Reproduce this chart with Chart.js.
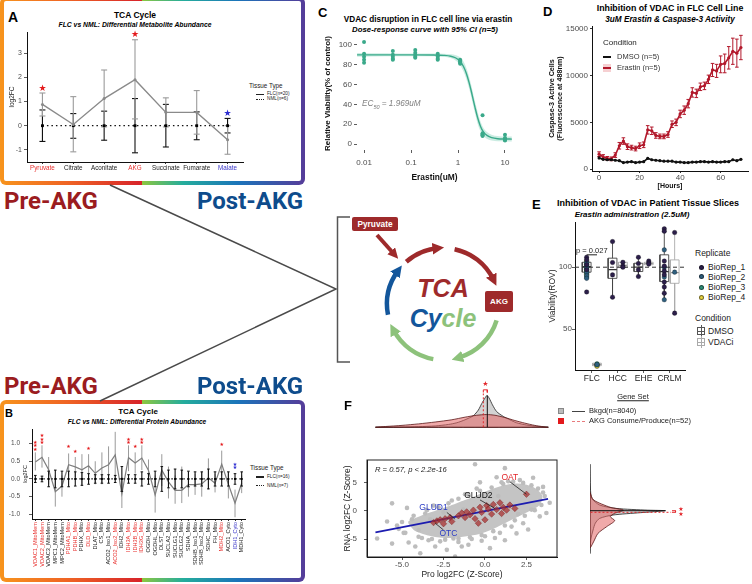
<!DOCTYPE html>
<html><head><meta charset="utf-8"><title>TCA / VDAC figure</title>
<script src="https://cdn.jsdelivr.net/npm/chart.js@4.4.1/dist/chart.umd.min.js"></script>
<style>
html,body{margin:0;padding:0;background:#fff;}
body{width:752px;height:584px;position:relative;overflow:hidden;font-family:'Liberation Sans',Arial,sans-serif;}
canvas{position:absolute;}
.frame{position:absolute;border-radius:6px;background:linear-gradient(90deg,#f7941d 0%,#ef6424 22%,#d7232a 46.4%,#8cc63f 46.6%,#25ad9c 60%,#1b74ba 78%,#563c99 100%);}
.frame > div{position:absolute;left:4px;top:4px;right:4px;bottom:4px;background:#fff;border-radius:2px;}
.tx{position:absolute;white-space:nowrap;line-height:1;}
.rk{position:absolute;}
svg.diag{position:absolute;left:0;top:0;}
</style></head>
<body>
<div class="frame" style="left:0;top:-3px;width:305px;height:188px"><div></div></div>
<div class="frame" style="left:0;top:400px;width:305px;height:182px"><div></div></div>
<svg class="diag" width="752" height="584" viewBox="0 0 752 584">
<defs>
<marker id="mr" viewBox="0 0 10 10" refX="4" refY="5" markerWidth="2.6" markerHeight="2.6" orient="auto"><path d="M0,0 L10,5 L0,10 z" fill="#9e2a2b"/></marker>
<marker id="mg" viewBox="0 0 10 10" refX="4" refY="5" markerWidth="2.6" markerHeight="2.6" orient="auto"><path d="M0,0 L10,5 L0,10 z" fill="#8dc27b"/></marker>
<marker id="mb" viewBox="0 0 10 10" refX="4" refY="5" markerWidth="2.6" markerHeight="2.6" orient="auto"><path d="M0,0 L10,5 L0,10 z" fill="#13569b"/></marker>
</defs>
<path d="M110,185 L336,289 L100,401" fill="none" stroke="#4a4a4a" stroke-width="1.5"/>
<path d="M350,217 H337.5 V362 H350" fill="none" stroke="#555" stroke-width="1.5"/>
<line x1="377" y1="235" x2="394" y2="254" stroke="#9e2a2b" stroke-width="4" marker-end="url(#mr)"/>
<path d="M406.3,261.7 A56,56 0 0 1 437.1,248.3" fill="none" stroke="#9e2a2b" stroke-width="4.5" marker-end="url(#mr)"/>
<path d="M454.6,249.2 A56,56 0 0 1 493.3,279.4" fill="none" stroke="#9e2a2b" stroke-width="4.5" marker-end="url(#mr)"/>
<path d="M496.6,320.4 A56,56 0 0 1 458.4,357.8" fill="none" stroke="#8dc27b" stroke-width="4.5" marker-end="url(#mg)"/>
<path d="M433.3,359.1 A56,56 0 0 1 393.6,330.3" fill="none" stroke="#8dc27b" stroke-width="4.5" marker-end="url(#mg)"/>
<path d="M388.0,314.7 A56,56 0 0 1 397.7,271.1" fill="none" stroke="#13569b" stroke-width="4.5" marker-end="url(#mb)"/>
<rect x="352" y="217" width="46" height="14" rx="2" fill="#9e2a2b"/>
<rect x="485" y="291" width="28" height="21" rx="2" fill="#9e2a2b"/>
</svg>
<script>
// ======================= DATA =======================
// Panel A – metabolites
const aCategories = ['Pyruvate','Citrate','Aconitate','AKG','Succinate','Fumarate','Malate'];
const aFlcMean = [0.88, 0.05, 1.12, 1.9, 0.55, 0.55, -0.58];
const aFlcLow  = [0.40, -1.08, -0.05, 0.28, -0.05, -0.35, -1.18];
const aFlcHigh = [1.35, 1.2, 2.3, 3.55, 1.15, 1.45, 0.0];
const aNmlMean = [0, 0, 0, 0, 0, 0, 0];
const aNmlLow  = [-0.65, -0.52, -0.6, -1.12, -0.88, -0.58, -0.3];
const aNmlHigh = [0.65, 0.5, 0.6, 1.12, 0.88, 0.57, 0.3];
const aStarCats = ['Pyruvate','AKG','Malate'];
const aStarVals = [1.55, 3.75, 0.5];
const aYTicks = [-1, 0, 1, 2, 3];

// Panel B – proteins
const bCategories = ['VDAC1_MitoMem','VDAC2_MitoMem','VDAC3_MitoMem','MPC1_MitoMem','MPC2_MitoMem','PDHA1_Mito','PDHB_Mito','PDHX_Mito','DLD_Mito','DLAT_Mito','CS_Mito','ACO2_Iso1_Mito','ACO2_Iso2_Mito','IDH2_Mito','IDH3A_Mito','IDH3B_Mito','IDH3G_Mito','OGDH_Mito','OGDHL_Mito','DLST_Mito','SUCLA2_Mito','SUCLG1_Mito','SUCLG2_Mito','SDHA_Mito','SDHB_Iso1_Mito','SDHB_Iso2_Mito','SDHC_Mito','FH_Mito','MDH2_Mito','ACO1_Cyto','IDH1_Cyto','MDH1_Cyto'];
const bFlcMean = [0.48,0.61,0.26,-0.36,-0.2,0.4,0.34,0.26,0.37,0.16,0.31,0.4,0.68,-0.42,0.6,0.45,0.59,0.24,-0.45,0.25,-0.08,-0.32,-0.32,-0.16,-0.16,-0.14,0.03,-0.12,0.42,-0.15,-0.68,-0.12];
const bFlcLow  = [0.24,0.32,-0.15,-0.78,-0.5,0.1,0.05,-0.2,0.05,-0.15,-0.15,-0.1,0.05,-0.82,0.22,0.15,0.25,-0.1,-0.95,-0.2,-0.55,-0.7,-0.68,-0.5,-0.45,-0.5,-0.3,-0.38,0.1,-0.55,-1.08,-0.4];
const bFlcHigh = [0.75,0.95,0.62,0.1,0.1,0.72,0.62,0.7,0.7,0.5,0.75,0.92,1.33,0.05,0.95,0.75,0.95,0.55,0.1,0.7,0.35,0.1,0.35,0.2,0.15,0.2,0.58,0.15,0.8,0.15,-0.3,0.1];
const bNmlHalf = [0.1,0.08,0.22,0.25,0.22,0.22,0.2,0.18,0.15,0.12,0.12,0.12,0.1,0.35,0.12,0.12,0.2,0.15,0.22,0.35,0.25,0.28,0.25,0.22,0.2,0.2,0.28,0.2,0.2,0.2,0.15,0.2];
const bUpCats = ['VDAC1_MitoMem','VDAC2_MitoMem','PDHA1_Mito','PDHB_Mito','DLD_Mito','ACO2_Iso2_Mito','IDH3A_Mito','IDH3B_Mito','IDH3G_Mito','MDH2_Mito'];
const bDownCats = ['IDH1_Cyto'];
const bStarCats = ['VDAC1_MitoMem','VDAC2_MitoMem','PDHA1_Mito','PDHB_Mito','DLD_Mito','IDH3A_Mito','IDH3B_Mito','IDH3G_Mito','MDH2_Mito','IDH1_Cyto'];
const bStarVals = [0.83, 1.02, 0.92, 0.78, 0.85, 1.02, 0.92, 1.02, 0.97, 0.31];
const bStarText = ['★★★','★★★','★','★','★','★★','★','★★','★','★★'];
const bYTicks = [-1, -0.5, 0, 0.5, 1];

// Panel C – dose response
const cDoses = [0.01, 0.041, 0.123, 0.37, 1.11, 3.33, 10];
const cViability = [[103,91,88,85,82],[94,90,88,86,85],[95,92,90,88,87],[91,89,88,86,85],[85,84,83,82,81],[29,11,10,9,8],[9.5,6,5,4,3.5]];
const cCurveX = [0.0071,0.03,0.1,0.3,0.5,0.7,0.9,1.1,1.3,1.5,1.7,1.9,2.1,2.3,2.6,3.0,3.5,4.2,5.2,7,10,14];
const cCurveY = [90,90,90,89.9,89.5,88.6,86.8,83.6,78.5,71.5,63,54,45,37,27,18,12,8.5,6.5,5.4,5.1,5.0];
const cBandHigh = [91.8,91.5,91.3,91.3,91.2,90.5,89.5,87.5,83.5,77,69,60,51,43,33,23,16,12,9.5,8,7.5,7.5];
const cBandLow = [88.2,88.5,88.7,88.5,87.8,86.7,84.1,79.7,73.5,66,57,48,39,31,21,13,8,5,3.5,2.8,2.7,2.5];
const cXTicks = [0.01, 0.1, 1, 10];
const cXTickLabels = ['0.01','0.1','1','10'];
const cYTicks = [0, 20, 40, 60, 80, 100];

// Panel D – caspase time course
const dHours = [0,2,4,6,8,10,12,14,16,18,20,22,24,26,28,30,32,34,36,38,40,42,44,46,48,50,52,54,56,58,60,62,64,66,68,70];
const dErastin = [1600,1300,1150,1100,1500,2500,3000,2400,2300,2200,2500,2600,4200,4100,3600,3500,3500,3700,4800,5000,5900,6300,7000,8200,8100,8800,8900,9600,10600,10500,11200,11300,11900,12600,12400,13000];
const dErastinErr = [250,250,200,200,250,350,350,300,250,250,300,300,450,400,300,250,250,300,350,350,400,450,450,500,450,400,400,450,700,700,900,1000,1200,1400,1500,1300];
const dDmso = [1200,1050,1000,1000,950,900,700,750,800,700,750,800,1150,1000,950,900,850,850,850,750,750,700,700,750,750,800,800,750,800,750,750,800,800,1000,900,1050];
const dDmsoErr = [150,120,100,100,100,100,100,100,100,100,100,100,150,120,100,100,100,100,100,100,100,100,100,100,100,100,100,100,100,100,100,100,100,120,100,120];
const dXTicks = [0, 20, 40, 60];
const dYTicks = [0, 5000, 10000, 15000];

// Panel E – tissue slices
const eCategories = ['FLC','HCC','EHE','CRLM'];
const eDmsoQ1  = [96, 91, 96.5, 88.4];
const eDmsoMed = [100.5, 98, 100, 96.5];
const eDmsoQ3  = [104, 107.3, 103.2, 110];
const eDmsoLo  = [90, 76, 92.5, 73.7];
const eDmsoHi  = [108.5, 120.7, 108, 131];
const eVdaciQ1  = [20.5, 100, 102, 87];
const eVdaciMed = [21.5, 101.5, 103, 95.7];
const eVdaciQ3  = [22.5, 104, 104, 105.9];
const eVdaciLo  = [19.5, 100, 102, 62.9];
const eVdaciHi  = [23.5, 104.5, 105, 128];
const eBioRep1 = [['FLC','DMSO',108],['FLC','DMSO',106],['FLC','DMSO',102],['FLC','DMSO',98],['FLC','DMSO',80],['HCC','DMSO',120.7],['HCC','DMSO',103.8],['HCC','DMSO',93.8],['HCC','DMSO',75.8],['HCC','VDACi',104],['HCC','VDACi',101],['HCC','VDACi',100],['EHE','DMSO',108],['EHE','DMSO',103],['EHE','DMSO',98],['EHE','DMSO',92.5],['EHE','VDACi',105],['EHE','VDACi',103.5],['EHE','VDACi',102.5],['CRLM','DMSO',131],['CRLM','DMSO',129],['CRLM','DMSO',105],['CRLM','DMSO',101],['CRLM','DMSO',97],['CRLM','DMSO',94],['CRLM','DMSO',88],['CRLM','DMSO',84],['CRLM','DMSO',79],['CRLM','VDACi',128],['CRLM','VDACi',62.9]];
const eBioRep2 = [['FLC','DMSO',104],['FLC','DMSO',101],['FLC','DMSO',99],['FLC','DMSO',96],['FLC','DMSO',93],['FLC','DMSO',91],['FLC','VDACi',21.5],['CRLM','DMSO',114],['CRLM','DMSO',100],['CRLM','DMSO',92],['CRLM','DMSO',73.7],['CRLM','VDACi',96]];
const eBioRep3 = [['FLC','DMSO',103],['FLC','DMSO',100],['FLC','DMSO',97],['FLC','DMSO',95],['FLC','DMSO',92],['FLC','VDACi',22],['FLC','VDACi',21]];
const eBioRep4 = [['FLC','DMSO',105],['FLC','DMSO',102],['FLC','DMSO',100],['FLC','DMSO',98],['FLC','DMSO',96],['FLC','DMSO',94],['FLC','VDACi',21],['FLC','VDACi',20]];
const eYTicks = [50, 100];
const eRefValue = 100;
const ePValueY = 110;

// Panel F – proteome vs transcriptome
const fCloudX = [-4.6,-3.8,-3.0,-2.2,-1.4,-0.6,0.2,1.0,1.8,2.5,3.1,3.4,3.2,2.6,1.9,1.2,0.5,-0.2,-1.0,-1.8,-2.6,-3.4,-4.2];
const fCloudY = [-2.0,-1.0,-0.2,0.6,1.5,2.4,3.4,4.2,4.6,4.4,3.6,2.4,1.0,0.0,-1.0,-2.0,-3.0,-3.8,-4.3,-4.6,-4.6,-4.2,-3.4];
const fBkgdX = [-6.5,-5.9,-5.6,-5.6,-5.2,-4.9,-4.7,-4.6,-4.2,-4.0,-3.9,-3.6,-3.4,-3.1,-3.0,-2.7,-2.3,-2.0,-1.8,-1.6,-1.4,-1.2,-1.0,-0.8,-0.6,-0.5,-0.2,0.3,0.6,0.7,1.2,1.2,1.4,1.6,1.9,2.1,2.3,2.6,2.9,3.3,3.5,3.7,3.9,-4.4,-3.8,-2.5,-1.9,0.0,0.9,2.8,3.6,-5.0,-0.3,1.0,
  -4.3,-3.5,-2.8,-2.2,-1.6,-1.0,-0.3,0.4,1.1,1.7,2.3,2.8,3.2,3.5,-4.8,-4.0,-3.2,-2.4,-1.6,-0.9,-0.2,0.5,1.2,1.8,2.4,3.0,3.4,-5.3,-3.3,-1.3,0.8,2.0];
const fBkgdY = [-4.9,-1.9,1.3,-5.8,-3.2,-3.9,0.5,-5.6,-6.3,-3.4,-7.5,-0.5,-5.2,0.9,-6.3,-5.4,-6.9,1.8,-8.1,-5.5,-6.3,2.9,-6.0,-5.0,8.2,3.9,-5.3,-6.6,-4.8,5.9,7.5,-5.2,5.2,-2.8,-4.0,5.4,-2.2,-3.3,5.8,-1.0,4.2,-0.4,1.4,-1.5,-4.8,-0.3,-4.9,-4.5,-3.9,0.2,2.6,-2.0,5.0,5.0,
  -0.9,0.1,0.6,1.3,2.1,2.8,3.5,4.1,4.7,5.1,4.9,4.5,3.9,3.2,-3.9,-4.6,-5.0,-5.1,-4.9,-4.7,-4.3,-3.6,-2.6,-1.7,-0.9,0.1,1.0,-2.6,-1.5,0.2,2.6,-0.6];
const fAkgX = [-3.1,-2.9,-2.7,-2.5,-2.4,-2.1,-2.0,-1.6,-1.4,-1.2,-1.1,-0.9,-0.7,-0.6,-0.3,-0.2,0.1,0.2,0.4,0.5,0.7,0.9,1.1,1.3,1.5,1.8,2.5,-0.4,0.0,1.0];
const fAkgY = [-2.1,-1.8,-1.6,-2.3,-1.4,-1.2,-1.9,-0.9,-0.4,-1.2,-0.2,-0.7,0.1,-1.4,0.6,-0.3,0.9,0.3,-0.6,1.1,0.2,1.4,0.6,0.1,1.0,0.4,2.9,-2.2,-1.6,-0.5];
const fFitX = [-6.6, 3.8];
const fFitY = [-3.8, 2.1];
const fGeneNames = ['GLUD1','OTC','GLUD2','OAT'];
const fGeneLabelX = [-3.1, -2.2, -0.4, 1.5];
const fGeneLabelY = [0.5, -4.0, 2.6, 5.9];
const fLeaderFromX = [-2.3, -3.0, -0.3, 1.5];
const fLeaderFromY = [-0.3, -2.2, 1.9, 5.1];
const fLeaderToX = [-1.8, -2.5, 0.6, 2.5];
const fLeaderToY = [-1.5, -3.4, 0.4, 2.9];
const fXTicks = [-5, -2.5, 0, 2.5];
const fYTicks = [-5, 0, 5];
const fTopBkgdX = [-6.6,-5,-4,-3,-2.2,-1.7,-1.2,-0.7,-0.4,-0.2,0.0,0.12,0.25,0.45,0.7,1.1,1.5,1.9,2.5,3.2,3.8];
const fTopBkgdD = [0,0.006,0.015,0.035,0.075,0.12,0.2,0.31,0.46,0.63,0.78,0.85,0.78,0.6,0.42,0.29,0.2,0.12,0.06,0.02,0];
const fTopAkgX = [-6.6,-6,-5,-4,-3,-2,-1.2,-0.5,0.1,0.6,1.2,1.8,2.4,3.0,3.5,3.8];
const fTopAkgD = [0,0.02,0.05,0.09,0.14,0.2,0.27,0.32,0.34,0.32,0.26,0.18,0.11,0.05,0.015,0];
const fTopMedians = [0.14, -0.1];
const fTopMedianH = [0.85, 0.9];
const fRightBkgdY = [8.2,4,2.2,1.0,0.4,0.1,0.0,-0.35,-0.76,-1.35,-2.2,-3.4,-5,-7.5];
const fRightBkgdD = [0,0.005,0.02,0.11,0.3,0.65,0.85,0.57,0.26,0.11,0.06,0.035,0.01,0];
const fRightAkgY = [3.2,1.9,0.6,0.1,-0.46,-1.06,-1.76,-2.8,-4.0,-5.5,-6.5];
const fRightAkgD = [0,0.04,0.23,0.38,0.28,0.23,0.28,0.19,0.09,0.04,0];
const fRightMedians = [0.0, -0.28];
const fRightMedianL = [0.86, 0.92];

// ======================= HELPERS =======================
Chart.defaults.font.family = "'Liberation Sans', Arial, sans-serif";
Chart.defaults.color = '#4d4d4d';
Chart.defaults.animation = false;
Chart.defaults.plugins.legend.display = false;
Chart.defaults.plugins.tooltip.enabled = false;

const glyphPlugin = {
  id: 'glyphs',
  afterDatasetsDraw(chart) {
    const ctx = chart.ctx;
    chart.data.datasets.forEach((ds, i) => {
      if (!ds.glyphs) return;
      const meta = chart.getDatasetMeta(i);
      meta.data.forEach((el, j) => {
        const g = ds.glyphs[j];
        if (g == null) return;
        ctx.save();
        ctx.font = ds.glyphFont;
        ctx.fillStyle = Array.isArray(ds.glyphColor) ? ds.glyphColor[j] : ds.glyphColor;
        ctx.textAlign = ds.glyphAlign || 'center';
        ctx.textBaseline = 'middle';
        if (ds.glyphStack) {
          Array.from(g).forEach((c, k) => ctx.fillText(c, el.x, el.y - k * ds.glyphStack));
        } else {
          ctx.fillText(g, el.x, el.y);
        }
        ctx.restore();
      });
    });
  }
};
const framePlugin = {
  id: 'frame',
  afterDraw(chart, args, opts) {
    if (!opts || !opts.show) return;
    const a = chart.chartArea, ctx = chart.ctx;
    ctx.save();
    ctx.strokeStyle = '#222'; ctx.lineWidth = 1;
    ctx.strokeRect(a.left, a.top, a.right - a.left, a.bottom - a.top);
    ctx.restore();
  }
};
Chart.register(glyphPlugin, framePlugin);

function mk(area, pad, cfg) {
  const L = area.l - pad.l, Tp = area.t - pad.t;
  const W = Math.round(area.r + pad.r - L), H = Math.round(area.b + pad.b - Tp);
  const cv = document.createElement('canvas');
  cv.width = W; cv.height = H;
  cv.style.left = L + 'px'; cv.style.top = Tp + 'px';
  cv.style.width = W + 'px'; cv.style.height = H + 'px';
  document.body.appendChild(cv);
  const o = cfg.options = cfg.options || {};
  o.responsive = false; o.maintainAspectRatio = false; o.animation = false;
  o.layout = {padding: {left: 0, top: pad.t, right: pad.r, bottom: 0}, autoPadding: false};
  let anyShown = false;
  for (const id in o.scales) {
    const s = o.scales[id];
    if (s.display === false) continue;
    anyShown = true;
    const horiz = id[0] === 'x';
    s.afterFit = sc => {
      if (horiz) sc.height = pad.b; else sc.width = pad.l;
      sc.paddingLeft = 0; sc.paddingRight = 0; sc.paddingTop = 0; sc.paddingBottom = 0;
    };
  }
  if (!anyShown) { o.layout.padding.left = pad.l; o.layout.padding.bottom = pad.b; }
  return new Chart(cv, cfg);
}
function fixed(arr) { return s => { s.ticks = arr.map(v => ({value: v})); }; }
function errSegs(xs, lo, hi) { const out = []; xs.forEach((x, i) => { out.push({x: x, y: lo[i]}, {x: x, y: hi[i]}, {x: x, y: null}); }); return out; }
function capPts(xs, lo, hi) { const out = []; xs.forEach((x, i) => { out.push({x: x, y: lo[i]}, {x: x, y: hi[i]}); }); return out; }
function xy(xs, ys) { return xs.map((x, i) => ({x: x, y: ys[i]})); }
function closed(pts) { return pts.concat([pts[0]]); }
function axisStyle(extra) {
  const base = {
    border: {display: true, color: '#111', width: 1},
    grid: {display: true, drawOnChartArea: false, drawTicks: true, tickLength: 3, color: '#333', tickWidth: 0.8}
  };
  return Object.assign(base, extra);
}
function T(str, x, y, o) {
  o = o || {};
  const d = document.createElement('div');
  d.className = 'tx';
  d.innerHTML = str;
  d.style.left = x + 'px'; d.style.top = y + 'px';
  d.style.fontSize = (o.s || 8) + 'px';
  if (o.b) d.style.fontWeight = 'bold';
  if (o.i) d.style.fontStyle = 'italic';
  if (o.u) d.style.textDecoration = 'underline';
  if (o.f) d.style.fontFamily = o.f;
  d.style.color = o.c || '#000';
  const ax = o.a === 'l' ? '0' : (o.a === 'r' ? '-100%' : '-50%');
  d.style.transform = 'translate(' + ax + ',-50%)';
  document.body.appendChild(d);
  return d;
}
function R(x, y, w, h, css) {
  const d = document.createElement('div');
  d.className = 'rk';
  d.style.left = x + 'px'; d.style.top = y + 'px'; d.style.width = w + 'px'; d.style.height = h + 'px';
  d.style.cssText += css || '';
  document.body.appendChild(d);
  return d;
}

// ======================= PANEL A =======================
const aLabelColors = aCategories.map(c => c === 'Pyruvate' || c === 'AKG' ? '#e8312f' : (c === 'Malate' ? '#3a36c9' : '#222'));
const aStarColors = aStarCats.map(c => c === 'Malate' ? '#2b2bd0' : '#e41a1c');
mk({l: 27, t: 32, r: 243, b: 162}, {l: 27, t: 2, r: 3, b: 12}, {
  type: 'line',
  data: {labels: aCategories, datasets: [
    {data: errSegs(aCategories, aNmlLow, aNmlHigh), borderColor: '#111', borderWidth: 1.1, pointRadius: 0, order: 5},
    {data: capPts(aCategories, aNmlLow, aNmlHigh), showLine: false, pointStyle: 'line', pointRadius: 3, borderColor: '#111', borderWidth: 1.1, order: 5},
    {data: errSegs(aCategories, aFlcLow, aFlcHigh), borderColor: '#9a9a9a', borderWidth: 1.1, pointRadius: 0, order: 4},
    {data: capPts(aCategories, aFlcLow, aFlcHigh), showLine: false, pointStyle: 'line', pointRadius: 3, borderColor: '#9a9a9a', borderWidth: 1.1, order: 4},
    {data: aNmlMean, borderColor: '#111', borderWidth: 1.3, borderDash: [1.5, 3], pointStyle: 'rect', pointRadius: 2, pointBackgroundColor: '#000', pointBorderWidth: 0, order: 2},
    {data: aFlcMean, borderColor: '#8a8a8a', borderWidth: 1.4, pointRadius: 1.5, pointBackgroundColor: '#8a8a8a', pointBorderWidth: 0, order: 1},
    {data: aStarCats.map((c, i) => ({x: c, y: aStarVals[i]})), showLine: false, pointRadius: 0, glyphs: aStarCats.map(() => '★'), glyphColor: aStarColors, glyphFont: '9px DejaVu Sans', order: 0}
  ]},
  options: {scales: {
    x: axisStyle({type: 'category', offset: true, ticks: {font: {size: 6.3}, color: ctx => aLabelColors[ctx.index], padding: 0, autoSkip: false, maxRotation: 0}, grid: {display: true, drawOnChartArea: false, tickLength: 2, color: '#333'}}),
    y: axisStyle({min: -1.5, max: 3.87, afterBuildTicks: fixed(aYTicks), ticks: {font: {size: 7}, color: '#4d4d4d', padding: 2, callback: v => String(v)},
      title: {display: true, text: 'log2FC', font: {size: 6.5}, color: '#222', padding: {top: 8, bottom: 0}}})
  }}
});

// ======================= PANEL B =======================
const bLabelColors = bCategories.map(c => bUpCats.includes(c) ? '#e8312f' : (bDownCats.includes(c) ? '#3a36c9' : '#222'));
const bStarColors = bStarCats.map(c => bDownCats.includes(c) ? '#2b2bd0' : '#e41a1c');
const bNmlLow = bNmlHalf.map(h => -h);
const bNmlMean = bCategories.map(() => 0);
mk({l: 32, t: 429, r: 245, b: 519}, {l: 32, t: 2, r: 3, b: 50}, {
  type: 'line',
  data: {labels: bCategories, datasets: [
    {data: errSegs(bCategories, bNmlLow, bNmlHalf), borderColor: '#111', borderWidth: 1.1, pointRadius: 0, order: 2},
    {data: capPts(bCategories, bNmlLow, bNmlHalf), showLine: false, pointStyle: 'line', pointRadius: 1.3, borderColor: '#111', borderWidth: 1, order: 2},
    {data: errSegs(bCategories, bFlcLow, bFlcHigh), borderColor: '#9a9a9a', borderWidth: 1, pointRadius: 0, order: 4},
    {data: bFlcMean, borderColor: '#7f7f7f', borderWidth: 1.2, pointRadius: 0, order: 3},
    {data: bNmlMean, borderColor: '#111', borderWidth: 1.2, borderDash: [1.5, 2.5], pointStyle: 'rect', pointRadius: 1.4, pointBackgroundColor: '#000', pointBorderWidth: 0, order: 1},
    {data: bStarCats.map((c, i) => ({x: c, y: bStarVals[i]})), showLine: false, pointRadius: 0, glyphs: bStarText, glyphColor: bStarColors, glyphFont: '5px DejaVu Sans', glyphStack: 3.4, order: 0}
  ]},
  options: {scales: {
    x: axisStyle({type: 'category', offset: true, ticks: {font: {size: 5.6}, color: ctx => bLabelColors[ctx.index], padding: 1, autoSkip: false, minRotation: 90, maxRotation: 90}, grid: {display: true, drawOnChartArea: false, tickLength: 2, color: '#333'}}),
    y: axisStyle({min: -1.13, max: 1.41, afterBuildTicks: fixed(bYTicks), ticks: {font: {size: 6.5}, color: '#4d4d4d', padding: 9, callback: v => v.toFixed(1)},
      title: {display: true, text: 'log2FC', font: {size: 5.5}, color: '#222', padding: {top: 22, bottom: 0}}})
  }}
});

// ======================= PANEL C =======================
const cPoints = [];
cDoses.forEach((d, i) => cViability[i].forEach(v => cPoints.push({x: d, y: v})));
mk({l: 357, t: 37, r: 512, b: 150}, {l: 39, t: 2, r: 4, b: 36}, {
  type: 'scatter',
  data: {datasets: [
    {data: xy(cCurveX, cBandHigh), showLine: true, borderWidth: 0, pointRadius: 0, fill: '+1', backgroundColor: 'rgba(70,185,150,0.28)', cubicInterpolationMode: 'monotone', order: 5},
    {data: xy(cCurveX, cBandLow), showLine: true, borderWidth: 0, pointRadius: 0, cubicInterpolationMode: 'monotone', order: 5},
    {data: xy(cCurveX, cCurveY), showLine: true, borderColor: '#3aa98a', borderWidth: 1.4, pointRadius: 0, cubicInterpolationMode: 'monotone', order: 2},
    {data: cPoints, pointRadius: 2, pointBackgroundColor: '#3aa98a', pointBorderWidth: 0, order: 1}
  ]},
  options: {scales: {
    x: axisStyle({type: 'logarithmic', min: 0.00708, max: 14.1, afterBuildTicks: fixed(cXTicks), border: {display: false},
      ticks: {font: {size: 8}, color: '#4d4d4d', padding: 5, autoSkip: false, maxRotation: 0, callback: (v, i) => cXTickLabels[i]},
      title: {display: true, text: 'Erastin(uM)', font: {size: 8.4, weight: 'bold'}, color: '#111', padding: {top: 0, bottom: 3}}}),
    y: axisStyle({min: -6, max: 108, afterBuildTicks: fixed(cYTicks), border: {display: false},
      ticks: {font: {size: 8}, color: '#4d4d4d', padding: 2, callback: v => String(v)},
      title: {display: true, text: 'Relative Viability(% of control)', font: {size: 8, weight: 'bold'}, color: '#111', padding: {top: 5, bottom: 0}}})
  }}
});

// ======================= PANEL D =======================
mk({l: 592, t: 26, r: 748, b: 171}, {l: 52, t: 2, r: 3, b: 22}, {
  type: 'scatter',
  data: {datasets: [
    {data: errSegs(dHours, dErastin.map((v, i) => v - dErastinErr[i]), dErastin.map((v, i) => v + dErastinErr[i])), showLine: true, borderColor: '#b2182b', borderWidth: 1, pointRadius: 0, order: 4},
    {data: capPts(dHours, dErastin.map((v, i) => v - dErastinErr[i]), dErastin.map((v, i) => v + dErastinErr[i])), pointStyle: 'line', pointRadius: 1.8, borderColor: '#b2182b', borderWidth: 1, order: 4},
    {data: xy(dHours, dErastin), showLine: true, borderColor: '#b2182b', borderWidth: 1.6, pointRadius: 1.6, pointBackgroundColor: '#b2182b', pointBorderWidth: 0, order: 3},
    {data: errSegs(dHours, dDmso.map((v, i) => v - dDmsoErr[i]), dDmso.map((v, i) => v + dDmsoErr[i])), showLine: true, borderColor: '#111', borderWidth: 1, pointRadius: 0, order: 2},
    {data: xy(dHours, dDmso), showLine: true, borderColor: '#111', borderWidth: 1.6, pointRadius: 1.6, pointBackgroundColor: '#111', pointBorderWidth: 0, order: 1}
  ]},
  options: {scales: {
    x: axisStyle({min: -3.5, max: 73.5, afterBuildTicks: fixed(dXTicks), ticks: {font: {size: 8}, color: '#4d4d4d', padding: 0, maxRotation: 0, callback: v => String(v)},
      grid: {display: true, drawOnChartArea: false, tickLength: 2, color: '#333'},
      title: {display: true, text: '[Hours]', font: {size: 7, weight: 'bold'}, color: '#111', padding: {top: 0, bottom: 3}}}),
    y: axisStyle({min: -200, max: 15300, afterBuildTicks: fixed(dYTicks), ticks: {font: {size: 8}, color: '#4d4d4d', padding: 2, callback: v => String(v)},
      grid: {display: true, drawOnChartArea: false, tickLength: 2, color: '#333'},
      title: {display: true, text: ['Caspase-3 Active Cells', '(Fluorescence at 488nm)'], font: {size: 7.2, weight: 'bold'}, color: '#111', padding: {top: 7.5, bottom: 0}}})
  }}
});

// ======================= PANEL E =======================
const eDodge = 0.2, eHalf = 0.17;
function eCenter(i, cond) { return i + 1 + (cond === 'DMSO' ? -eDodge : eDodge); }
function boxOutline(q1, q3, cond) { const p = []; q1.forEach((v, i) => { const c = eCenter(i, cond); p.push({x: c - eHalf, y: q1[i]}, {x: c + eHalf, y: q1[i]}, {x: c + eHalf, y: q3[i]}, {x: c - eHalf, y: q3[i]}, {x: c - eHalf, y: q1[i]}, {x: c, y: null}); }); return p; }
function boxMedian(med, cond) { const p = []; med.forEach((v, i) => { const c = eCenter(i, cond); p.push({x: c - eHalf, y: v}, {x: c + eHalf, y: v}, {x: c, y: null}); }); return p; }
function boxWhisk(q1, q3, lo, hi, cond) { const p = []; q1.forEach((v, i) => { const c = eCenter(i, cond); p.push({x: c, y: q3[i]}, {x: c, y: hi[i]}, {x: c, y: null}, {x: c, y: q1[i]}, {x: c, y: lo[i]}, {x: c, y: null}); }); return p; }
function repPts(rep) { return rep.map(r => ({x: eCenter(eCategories.indexOf(r[0]), r[1]), y: r[2]})); }
const eRepColors = ['#2c1f4a', '#2f5f7e', '#2e8f78', '#e8d33f'];
const eLineBox = (data, color, w) => ({data: data, showLine: true, borderColor: color, borderWidth: w, pointRadius: 0});
mk({l: 575, t: 222, r: 685, b: 370}, {l: 30, t: 2, r: 2, b: 14}, {
  type: 'scatter',
  data: {datasets: [
    Object.assign(eLineBox(boxOutline(eDmsoQ1, eDmsoQ3, 'DMSO'), '#444', 0.9), {order: 3}),
    Object.assign(eLineBox(boxMedian(eDmsoMed, 'DMSO'), '#333', 1.2), {order: 3}),
    Object.assign(eLineBox(boxWhisk(eDmsoQ1, eDmsoQ3, eDmsoLo, eDmsoHi, 'DMSO'), '#444', 0.9), {order: 3}),
    Object.assign(eLineBox(boxOutline(eVdaciQ1, eVdaciQ3, 'VDACi'), '#aaa', 0.9), {order: 3}),
    Object.assign(eLineBox(boxMedian(eVdaciMed, 'VDACi'), '#999', 1.2), {order: 3}),
    Object.assign(eLineBox(boxWhisk(eVdaciQ1, eVdaciQ3, eVdaciLo, eVdaciHi, 'VDACi'), '#aaa', 0.9), {order: 3}),
    {data: [{x: 0.35, y: eRefValue}, {x: 4.6, y: eRefValue}], showLine: true, borderColor: '#333', borderWidth: 1, borderDash: [4, 3], pointRadius: 0, order: 2},
    {data: repPts(eBioRep1), pointRadius: 2.3, pointBackgroundColor: eRepColors[0], pointBorderColor: 'rgba(0,0,0,0.5)', pointBorderWidth: 0.5, order: 1},
    {data: repPts(eBioRep2), pointRadius: 2.3, pointBackgroundColor: eRepColors[1], pointBorderColor: 'rgba(0,0,0,0.5)', pointBorderWidth: 0.5, order: 1},
    {data: repPts(eBioRep3), pointRadius: 2.3, pointBackgroundColor: eRepColors[2], pointBorderColor: 'rgba(0,0,0,0.5)', pointBorderWidth: 0.5, order: 1},
    {data: repPts(eBioRep4), pointRadius: 2.3, pointBackgroundColor: eRepColors[3], pointBorderColor: 'rgba(0,0,0,0.6)', pointBorderWidth: 0.6, order: 1},
    {data: [{x: eCenter(0, 'DMSO'), y: ePValueY}, {x: eCenter(0, 'VDACi'), y: ePValueY}], showLine: true, borderColor: '#222', borderWidth: 1, pointRadius: 0, order: 0},
    {data: [{x: 1, y: ePValueY + 3.5}], pointRadius: 0, glyphs: ['p = 0.027'], glyphColor: '#222', glyphFont: '7.5px Liberation Sans', order: 0}
  ]},
  options: {scales: {
    x: axisStyle({min: 0.35, max: 4.6, afterBuildTicks: fixed([1, 2, 3, 4]), ticks: {font: {size: 8.5}, color: '#222', padding: 1, maxRotation: 0, autoSkip: false, callback: v => eCategories[v - 1]}}),
    y: axisStyle({min: 17, max: 136.5, afterBuildTicks: fixed(eYTicks), ticks: {font: {size: 8}, color: '#4d4d4d', padding: 0, callback: v => String(v)},
      title: {display: true, text: 'Viability(ROV)', font: {size: 8.5}, color: '#222', padding: {top: 3, bottom: 0}}})
  }}
});

// ======================= PANEL F =======================
const fCloud = closed(xy(fCloudX, fCloudY));
mk({l: 367, t: 460, r: 557, b: 557}, {l: 25, t: 2, r: 2, b: 24}, {
  type: 'scatter',
  data: {datasets: [
    {data: fCloud, showLine: true, fill: 'shape', backgroundColor: '#c4c4c4', borderColor: '#c4c4c4', borderWidth: 2, tension: 0.3, pointRadius: 0, order: 10},
    {data: xy(fBkgdX, fBkgdY), pointRadius: 2.3, pointBackgroundColor: '#bdbdbd', pointBorderWidth: 0, order: 9},
    {data: xy(fFitX, fFitY), showLine: true, borderColor: '#1c1cb0', borderWidth: 1.8, pointRadius: 0, order: 6},
    {data: xy(fAkgX, fAkgY), pointStyle: 'rectRot', pointRadius: 3.2, pointBackgroundColor: 'rgba(168,45,45,0.72)', pointBorderColor: 'rgba(120,25,25,0.8)', pointBorderWidth: 0.5, order: 5},
    {data: errSegs(fLeaderFromX, fLeaderFromY, fLeaderToY).map((p, k) => (k % 3 === 1 ? {x: fLeaderToX[(k - 1) / 3], y: p.y} : p)), showLine: true, borderColor: '#222', borderWidth: 0.8, pointRadius: 0, order: 2},
    {data: xy(fGeneLabelX, fGeneLabelY), pointRadius: 0, glyphs: fGeneNames, glyphColor: ['#2a3bc4', '#2a3bc4', '#111', '#e3262b'], glyphFont: '8.5px Liberation Sans', order: 1}
  ]},
  options: {plugins: {frame: {show: true}}, scales: {
    x: axisStyle({min: -7.11, max: 4.34, afterBuildTicks: fixed(fXTicks), ticks: {font: {size: 8}, color: '#4d4d4d', padding: 0, maxRotation: 0, callback: v => v.toFixed(1)},
      title: {display: true, text: 'Pro log2FC (Z-Score)', font: {size: 8.5}, color: '#222', padding: {top: 0, bottom: 1}}}),
    y: axisStyle({min: -8.16, max: 8.94, afterBuildTicks: fixed(fYTicks), ticks: {font: {size: 8}, color: '#4d4d4d', padding: 7, callback: v => String(v)},
      title: {display: true, text: 'RNA log2FC (Z-Score)', font: {size: 8.5}, color: '#222', padding: {top: 1, bottom: 0}}})
  }}
});
// top marginal density
mk({l: 367, t: 380, r: 557, b: 428}, {l: 0, t: 0, r: 0, b: 0}, {
  type: 'scatter',
  data: {datasets: [
    {data: closed(xy(fTopBkgdX, fTopBkgdD)), showLine: true, fill: 'shape', backgroundColor: 'rgba(200,200,200,0.8)', borderColor: '#222', borderWidth: 0.8, tension: 0.25, pointRadius: 0, clip: false, order: 5},
    {data: closed(xy(fTopAkgX, fTopAkgD)), showLine: true, fill: 'shape', backgroundColor: 'rgba(228,100,100,0.55)', borderColor: '#5a1515', borderWidth: 0.8, tension: 0.25, pointRadius: 0, clip: false, order: 4},
    {data: [{x: fTopMedians[0], y: 0}, {x: fTopMedians[0], y: fTopMedianH[0]}], showLine: true, borderColor: '#111', borderWidth: 1, pointRadius: 0, order: 2},
    {data: [{x: fTopMedians[1], y: 0}, {x: fTopMedians[1], y: fTopMedianH[1]}], showLine: true, borderColor: '#e3262b', borderWidth: 1, borderDash: [2, 2], pointRadius: 0, order: 2},
    {data: [{x: fTopMedians[1], y: 0.93}, {x: fTopMedians[1], y: 1.0}, {x: fTopMedians[0], y: 1.0}, {x: fTopMedians[0], y: 0.93}], showLine: true, borderColor: '#e3262b', borderWidth: 1, pointRadius: 0, order: 1},
    {data: [{x: (fTopMedians[0] + fTopMedians[1]) / 2, y: 1.14}], pointRadius: 0, glyphs: ['★'], glyphColor: '#e3262b', glyphFont: '7px DejaVu Sans', order: 0}
  ]},
  options: {scales: {x: {display: false, min: -7.11, max: 4.34}, y: {display: false, min: -0.02, max: 1.263}}}
});
// right marginal density
mk({l: 590, t: 460, r: 687, b: 557}, {l: 0, t: 0, r: 0, b: 0}, {
  type: 'scatter',
  data: {datasets: [
    {data: closed(xy(fRightBkgdD, fRightBkgdY)), showLine: true, fill: 'shape', backgroundColor: 'rgba(200,200,200,0.8)', borderColor: '#222', borderWidth: 0.8, tension: 0.25, pointRadius: 0, clip: false, order: 5},
    {data: closed(xy(fRightAkgD, fRightAkgY)), showLine: true, fill: 'shape', backgroundColor: 'rgba(228,100,100,0.55)', borderColor: '#5a1515', borderWidth: 0.8, tension: 0.25, pointRadius: 0, clip: false, order: 4},
    {data: [{x: -0.04, y: fRightMedians[0]}, {x: fRightMedianL[0], y: fRightMedians[0]}], showLine: true, borderColor: '#111', borderWidth: 1, pointRadius: 0, clip: false, order: 2},
    {data: [{x: -0.04, y: fRightMedians[1]}, {x: fRightMedianL[1], y: fRightMedians[1]}], showLine: true, borderColor: '#e3262b', borderWidth: 1, borderDash: [2, 2], pointRadius: 0, clip: false, order: 2},
    {data: [{x: 0.93, y: fRightMedians[0]}, {x: 0.97, y: fRightMedians[0]}, {x: 0.97, y: fRightMedians[1]}, {x: 0.93, y: fRightMedians[1]}], showLine: true, borderColor: '#e3262b', borderWidth: 1, pointRadius: 0, clip: false, order: 1},
    {data: [{x: 1.03, y: fRightMedians[1] - 0.35}], pointRadius: 0, glyphs: ['★★'], glyphColor: '#e3262b', glyphFont: '6px DejaVu Sans', glyphStack: 4.5, order: 0}
  ]},
  options: {scales: {x: {display: false, min: 0, max: 1.1}, y: {display: false, min: -8.16, max: 8.94}}}
});

// ======================= TEXT / LEGENDS =======================
// Panel A
T('A', 8, 16.5, {s: 14, b: true, a: 'l'});
T('TCA Cycle', 135, 14.5, {s: 8.5, b: true});
T('FLC vs NML: Differential Metabolite Abundance', 135, 24.5, {s: 6.8, b: true, i: true});
T('Tissue Type', 249, 86, {s: 6.3, a: 'l', c: '#222'});
R(256, 93.6, 8, 1.2, 'background:#222;');
T('FLC(n=20)', 267, 94.3, {s: 4.7, a: 'l', c: '#222'});
R(256, 98.7, 8, 0, 'border-top:1.2px dotted #222;');
T('NML(n=6)', 267, 99.3, {s: 4.7, a: 'l', c: '#222'});
// Panel B
T('B', 5, 413, {s: 11, b: true, a: 'l'});
T('TCA Cycle', 138, 412, {s: 8, b: true});
T('FLC vs NML: Differential Protein Abundance', 137, 422, {s: 6.6, b: true, i: true});
T('Tissue Type', 250, 468, {s: 6.3, a: 'l', c: '#222'});
R(256, 476.4, 8, 1.2, 'background:#222;');
T('FLC(n=16)', 267, 477, {s: 4.7, a: 'l', c: '#222'});
R(256, 485.4, 8, 0, 'border-top:1.2px dotted #222;');
T('NML(n=7)', 267, 486, {s: 4.7, a: 'l', c: '#222'});
// Pre / Post AKG
T('Pre-AKG', 4, 201, {s: 24, b: true, a: 'l', c: '#9b1c20', f: 'Roboto, sans-serif'});
T('Post-AKG', 197, 201, {s: 24, b: true, a: 'l', c: '#0e4c8c', f: 'Roboto, sans-serif'});
T('Pre-AKG', 4, 386, {s: 24, b: true, a: 'l', c: '#9b1c20', f: 'Roboto, sans-serif'});
T('Post-AKG', 197, 386, {s: 24, b: true, a: 'l', c: '#0e4c8c', f: 'Roboto, sans-serif'});
// TCA diagram texts
T('Pyruvate', 375, 224, {s: 8.3, b: true, c: '#fff'});
T('AKG', 499, 301.5, {s: 8, b: true, c: '#fff'});
T('TCA', 443, 288, {s: 25, b: true, i: true, c: '#9e2a2b'});
T('<span style="color:#13569b">Cy</span><span style="color:#8dc27b">cle</span>', 443, 318, {s: 25, b: true, i: true});
// Panel C
T('C', 318, 12, {s: 13, b: true, a: 'l'});
T('VDAC disruption in FLC cell line via erastin', 428, 20, {s: 8.2, b: true});
T('Dose-response curve with 95% CI (n=5)', 425, 29.5, {s: 7.8, b: true, i: true});
T('EC<sub style="font-size:5.5px">50</sub> = 1.969uM', 362, 105, {s: 8.2, i: true, a: 'l', c: '#808080'});
// Panel D
T('D', 543, 11, {s: 13, b: true, a: 'l'});
T('Inhibition of VDAC in FLC Cell Line', 670, 8, {s: 8.8, b: true});
T('3uM Erastin &amp; Caspase-3 Activity', 670, 20, {s: 8.2, b: true, i: true});
T('Condition', 603, 43, {s: 8, a: 'l', c: '#222'});
R(603, 56.3, 8, 1.5, 'background:#111;');
T('DMSO (n=5)', 617, 57, {s: 7.5, a: 'l', c: '#333'});
R(603, 64, 8, 8, 'background:#f6d0d2;');
R(603, 67.3, 8, 1.5, 'background:#b2182b;');
T('Erastin (n=5)', 617, 68, {s: 7.5, a: 'l', c: '#333'});
// Panel E
T('E', 532, 204, {s: 13, b: true, a: 'l'});
T('Inhibition of VDAC in Patient Tissue Slices', 648, 203, {s: 9, b: true});
T('Erastin administration (2.5uM)', 632, 215, {s: 8, b: true, i: true});
T('Replicate', 695, 253, {s: 8.5, a: 'l', c: '#222'});
['BioRep_1', 'BioRep_2', 'BioRep_3', 'BioRep_4'].forEach((n, k) => {
  const yy = [267, 276.5, 287, 297][k];
  R(698.5, yy - 2.5, 5, 5, 'border-radius:50%;box-sizing:border-box;border:0.6px solid rgba(0,0,0,0.5);background:' + eRepColors[k] + ';');
  T(n, 708, yy, {s: 8.5, a: 'l', c: '#222'});
});
T('Condition', 695, 318, {s: 8.5, a: 'l', c: '#222'});
R(697, 327, 8, 8, 'box-sizing:border-box;border:1px solid #555;');
R(697, 330.5, 8, 1, 'background:#555;');
R(700.5, 325, 1, 12, 'background:#555;');
T('DMSO', 708, 331, {s: 8.5, a: 'l', c: '#222'});
R(697, 338, 8, 8, 'box-sizing:border-box;border:1px solid #aaa;');
R(697, 341.5, 8, 1, 'background:#aaa;');
R(700.5, 336, 1, 12, 'background:#aaa;');
T('VDACi', 708, 342, {s: 8.5, a: 'l', c: '#222'});
// Panel F
T('F', 344, 405, {s: 13, b: true, a: 'l'});
T('R = 0.57, p &lt; 2.2e-16', 375, 470, {s: 7.6, i: true, a: 'l', c: '#222'});
T('Gene Set', 633, 397, {s: 7.5, u: true, c: '#222'});
R(558, 408, 6, 6, 'box-sizing:border-box;background:#bbb;border:0.6px solid #888;');
R(572, 410.5, 13, 1, 'background:#444;');
T('Bkgd(n=8040)', 589, 411, {s: 7.5, a: 'l', c: '#222'});
R(558, 418, 6, 6, 'background:#e3191c;');
R(572, 420.5, 13, 0, 'border-top:1px dashed #e87b7d;');
T('AKG Consume/Produce(n=52)', 589, 421, {s: 7.5, a: 'l', c: '#222'});
</script>
</body></html>
